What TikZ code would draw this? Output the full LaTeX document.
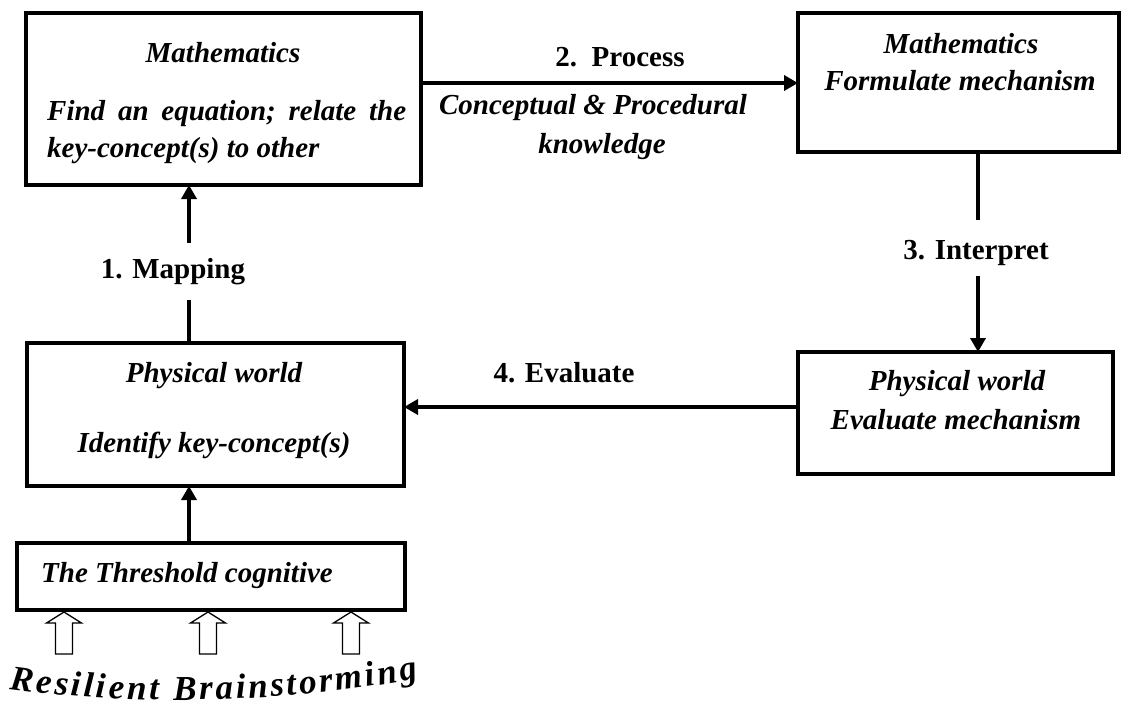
\documentclass[tikz,border=0pt]{standalone}
\usepackage{fontspec}
\setmainfont{Liberation Serif}
\usetikzlibrary{arrows.meta,decorations.text}
\begin{document}
\begin{tikzpicture}[x=1pt,y=-1pt,
  box/.style={draw, line width=4pt, inner sep=0pt, outer sep=0pt},
  txt/.style={font=\fontsize{29}{35}\selectfont\bfseries\itshape, inner sep=0pt, anchor=base},
  lbl/.style={font=\fontsize{29}{35}\selectfont\bfseries, inner sep=0pt, anchor=base},
  ln/.style={line width=3.5pt},
  arr/.style={line width=3.5pt, -{Triangle[length=14pt,width=15pt]}},
  hollow/.style={draw, line width=1.3pt, line join=miter, fill=white}]
\useasboundingbox (0,0) rectangle (1123,715);
% boxes
\node[box, minimum width=395pt, minimum height=172pt] (A) at (223.5,99) {};
\node[box, minimum width=321pt, minimum height=139pt] (B) at (958.5,82.5) {};
\node[box, minimum width=377pt, minimum height=143pt] (C) at (215.5,414.5) {};
\node[box, minimum width=315pt, minimum height=122pt] (D) at (955.5,413) {};
\node[box, line width=3.5pt, minimum width=388pt, minimum height=67pt] (E) at (211,576.5) {};
% box texts
\node[txt] (a1) at (223,62) {Mathematics};
\node[txt, anchor=base west] (a2) at (47,120) {\spaceskip=12.8pt Find an equation; relate the};
\node[txt, anchor=base west] (a3) at (47,157) {key-concept(s) to other};
\node[txt] (b1) at (961,53) {Mathematics};
\node[txt] (b2) at (960,90) {Formulate mechanism};
\node[txt] (c1) at (214,382) {Physical world};
\node[txt] (c2) at (214,452) {Identify key-concept(s)};
\node[txt] (d1) at (957,390) {Physical world};
\node[txt] (d2) at (956,429) {Evaluate mechanism};
\node[txt, anchor=base west] (e1) at (41,582) {The Threshold cognitive};
% connector labels
\node[lbl] (p1) at (620,66) {2.\ \ Process};
\node[txt] (p2) at (593,114) {Conceptual \& Procedural};
\node[txt] (p3) at (602,153) {knowledge};
\node[lbl] (i0) at (976,259) {3. Interpret};
\node[lbl] (e0) at (564,382) {4. Evaluate};
\node[lbl] (m0) at (173,278) {1. Mapping};
% connector coordinates
\coordinate (i1) at (978,220);
\coordinate (i2) at (978,276);
\coordinate (m1) at (189,243);
\coordinate (m2) at (189,300);
% connectors
\draw[arr] ([yshift=16pt]A.east) -- ([yshift=16pt]A.east -| B.west);
\draw[ln] (B.south -| i1) -- (i1);
\draw[arr] (i2) -- (i2 |- D.north);
\draw[arr] ([yshift=6pt]D.west) -- ([yshift=6pt]D.west -| C.east);
\draw[ln] (C.north -| m2) -- (m2);
\draw[arr] (m1) -- (m1 |- A.south);
\draw[arr] (E.north -| m1) -- (C.south -| m1);
% hollow arrows
\foreach \cx in {64,208,351}
  \draw[hollow] (\cx,612) -- (\cx+17.5,623) -- (\cx+8.5,623) -- (\cx+8.5,654)
     -- (\cx-8.5,654) -- (\cx-8.5,623) -- (\cx-17.5,623) -- cycle;
% curved title
\path[decorate, decoration={text along path, text align={fit to path},
  text={|\fontsize{35}{35}\selectfont\bfseries\itshape|Resilient Brainstorming}}]
  (10,689) .. controls (130,706) and (290,704) .. (418,678);
\end{tikzpicture}
\end{document}
